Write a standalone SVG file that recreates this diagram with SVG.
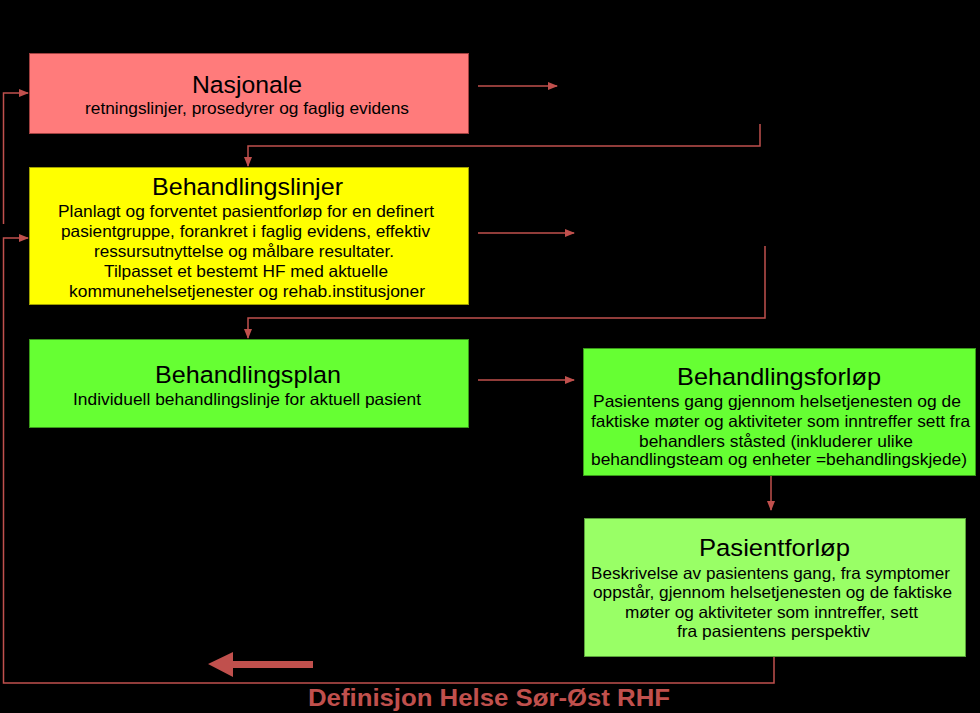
<svg xmlns="http://www.w3.org/2000/svg" width="980" height="713" viewBox="0 0 980 713">
<defs>
<style>
.t{font-family:"Liberation Sans",Arial,sans-serif;fill:#000;}
.h{font-size:24.5px;}
.b{font-size:16.5px;}
.c{fill:none;stroke:#C0504D;stroke-width:1.5;}
.f{font-family:"Liberation Sans",Arial,sans-serif;font-weight:bold;font-size:24px;fill:#C0504D;}
</style>
<marker id="ah" markerWidth="10" markerHeight="8" refX="9" refY="4" orient="auto" markerUnits="userSpaceOnUse">
<path d="M0,0 L10,4 L0,8 Z" fill="#C0504D"/>
</marker>
</defs>
<rect x="0" y="0" width="980" height="713" fill="#000"/>

<g id="connectors">
<path class="c" d="M478,86 H557" marker-end="url(#ah)"/>
<path class="c" d="M760,124 V146 H248 V166" marker-end="url(#ah)"/>
<path class="c" d="M478,233 H574" marker-end="url(#ah)"/>
<path class="c" d="M765,246 V318 H248 V338" marker-end="url(#ah)"/>
<path class="c" d="M478,380 H574" marker-end="url(#ah)"/>
<path class="c" d="M771,476 V510" marker-end="url(#ah)"/>
<path class="c" d="M3.5,224 V93 H28" marker-end="url(#ah)"/>
<path class="c" d="M774,657 V683 H3.5 V238 H28" marker-end="url(#ah)"/>
<path d="M208,664 L233,652 L233,661 L313,661 L313,668 L233,668 L233,677 Z" fill="#C0504D"/>
</g>

<g id="nasjonale">
<rect x="29.5" y="53.5" width="439" height="80" fill="#FF7B7B" stroke="#A04040" stroke-width="1"/>
<text class="t h" x="192" y="93" textLength="110" lengthAdjust="spacingAndGlyphs">Nasjonale</text>
<text class="t b" x="85" y="114" textLength="324" lengthAdjust="spacingAndGlyphs">retningslinjer, prosedyrer og faglig evidens</text>
</g>

<g id="behandlingslinjer">
<rect x="29.5" y="167.5" width="439" height="137" fill="#FFFF00" stroke="#A0A000" stroke-width="1"/>
<text class="t h" x="152" y="195" textLength="191" lengthAdjust="spacingAndGlyphs">Behandlingslinjer</text>
<text class="t b" x="58" y="217" textLength="376" lengthAdjust="spacingAndGlyphs">Planlagt og forventet pasientforløp for en  definert</text>
<text class="t b" x="61" y="237" textLength="369" lengthAdjust="spacingAndGlyphs">pasientgruppe, forankret i faglig evidens, effektiv</text>
<text class="t b" x="94" y="257" textLength="300" lengthAdjust="spacingAndGlyphs">ressursutnyttelse og målbare resultater.</text>
<text class="t b" x="104" y="277" textLength="284" lengthAdjust="spacingAndGlyphs">Tilpasset et bestemt HF med aktuelle</text>
<text class="t b" x="69" y="297" textLength="356" lengthAdjust="spacingAndGlyphs">kommunehelsetjenester og rehab.institusjoner</text>
</g>

<g id="behandlingsplan">
<rect x="29.5" y="339.5" width="439" height="88" fill="#66FF33" stroke="#3A9A1A" stroke-width="1"/>
<text class="t h" x="155" y="383" textLength="186" lengthAdjust="spacingAndGlyphs">Behandlingsplan</text>
<text class="t b" x="73" y="405" textLength="348" lengthAdjust="spacingAndGlyphs">Individuell behandlingslinje for aktuell pasient</text>
</g>

<g id="behandlingsforlop">
<rect x="583.5" y="348.5" width="392" height="127" fill="#66FF33" stroke="#3A9A1A" stroke-width="1"/>
<text class="t h" x="677" y="385" textLength="204" lengthAdjust="spacingAndGlyphs">Behandlingsforløp</text>
<text class="t b" x="593" y="407" textLength="368" lengthAdjust="spacingAndGlyphs">Pasientens gang gjennom helsetjenesten og de</text>
<text class="t b" x="591" y="427" textLength="379" lengthAdjust="spacingAndGlyphs">faktiske møter og aktiviteter som inntreffer sett fra</text>
<text class="t b" x="639" y="447" textLength="274" lengthAdjust="spacingAndGlyphs">behandlers ståsted (inkluderer ulike</text>
<text class="t b" x="591" y="465" textLength="376" lengthAdjust="spacingAndGlyphs">behandlingsteam og enheter =behandlingskjede)</text>
</g>

<g id="pasientforlop">
<rect x="584.5" y="518.5" width="381" height="138" fill="#99FF66" stroke="#5AA03A" stroke-width="1"/>
<text class="t h" x="699" y="556" textLength="151" lengthAdjust="spacingAndGlyphs">Pasientforløp</text>
<text class="t b" x="591" y="579" textLength="359" lengthAdjust="spacingAndGlyphs">Beskrivelse av pasientens gang, fra symptomer</text>
<text class="t b" x="593" y="598" textLength="359" lengthAdjust="spacingAndGlyphs">oppstår, gjennom helsetjenesten og de faktiske</text>
<text class="t b" x="625" y="618" textLength="293" lengthAdjust="spacingAndGlyphs">møter og aktiviteter som inntreffer, sett</text>
<text class="t b" x="677" y="637" textLength="193" lengthAdjust="spacingAndGlyphs">fra pasientens perspektiv</text>
</g>

<text class="f" x="308" y="706" textLength="362" lengthAdjust="spacingAndGlyphs">Definisjon Helse Sør-Øst RHF</text>
</svg>
